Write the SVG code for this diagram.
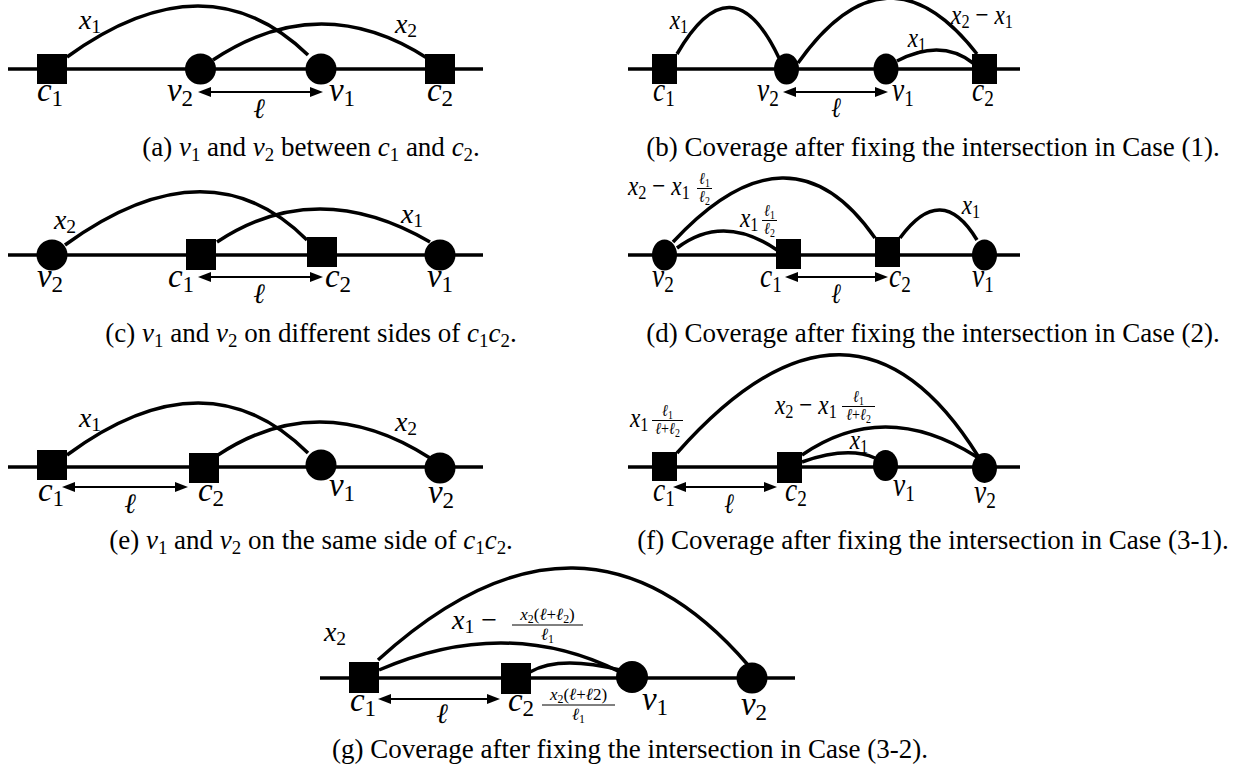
<svg xmlns="http://www.w3.org/2000/svg" width="1244" height="777" viewBox="0 0 1244 777">
<style>
.ln{stroke:#000;stroke-width:3.5;fill:none}
.arc{stroke:#000;stroke-width:3.5;fill:none}
.ar{stroke:#000;stroke-width:2;fill:none;marker-start:url(#ah);marker-end:url(#ah)}
.fb{stroke:#000;stroke-width:1}
.nd{fill:#000}
text{font-family:"Liberation Serif","DejaVu Serif",serif;fill:#000}
.m{font-style:italic}
.nl{font-size:33px;font-style:italic}
.el{font-size:28px;font-style:italic}
.fr{font-size:17px;font-style:italic}
.sb{font-size:0.7em;font-style:normal}
.u{font-style:normal}
.cap{font-size:27px}
</style>
<defs>
<marker id="ah" markerUnits="userSpaceOnUse" markerWidth="13" markerHeight="10" refX="5" refY="5" orient="auto-start-reverse"><path d="M0,0 L13,5 L0,10 z" fill="#000"/></marker>
</defs>
<rect width="1244" height="777" fill="#fff"/>

<!-- Panel (a) -->
<g id="panel-a">
<g id="a-connectors">
<line class="ln" x1="8" y1="69" x2="483" y2="69"/>
<path class="arc" d="M67,57 Q206,-44 308,55"/>
<path class="arc" d="M213,60 Q320,-11 427,58"/>
<line class="ar" x1="206" y1="92" x2="315" y2="92"/>
<text class="el" x="90" y="29" text-anchor="middle">x<tspan class="sb" dy="4">1</tspan></text>
<text class="el" x="406" y="33" text-anchor="middle">x<tspan class="sb" dy="4">2</tspan></text>
<text class="el" x="259" y="118" text-anchor="middle">ℓ</text>
</g>
<g id="a-c1"><rect class="nd" x="37" y="54" width="30" height="30"/><text class="nl" x="50" y="101" text-anchor="middle">c<tspan class="sb" dy="5">1</tspan></text></g>
<g id="a-v2"><circle class="nd" cx="200.5" cy="69" r="15.5"/><text class="nl" x="180" y="101" text-anchor="middle">v<tspan class="sb" dy="5">2</tspan></text></g>
<g id="a-v1"><circle class="nd" cx="321" cy="69" r="15.5"/><text class="nl" x="342" y="101" text-anchor="middle">v<tspan class="sb" dy="5">1</tspan></text></g>
<g id="a-c2"><rect class="nd" x="425" y="54" width="30" height="30"/><text class="nl" x="440" y="101" text-anchor="middle">c<tspan class="sb" dy="5">2</tspan></text></g>
<text class="cap" x="311" y="156" text-anchor="middle">(a) <tspan class="m">v</tspan><tspan class="sb" dy="5">1</tspan><tspan dy="-5"> and </tspan><tspan class="m">v</tspan><tspan class="sb" dy="5">2</tspan><tspan dy="-5"> between </tspan><tspan class="m">c</tspan><tspan class="sb" dy="5">1</tspan><tspan dy="-5"> and </tspan><tspan class="m">c</tspan><tspan class="sb" dy="5">2</tspan><tspan dy="-5">.</tspan></text>
</g>

<!-- Panel (b) -->
<g id="panel-b">
<g id="b-connectors">
<line class="ln" x1="628" y1="69" x2="1020" y2="69"/>
<path class="arc" d="M677,54 Q732,-41 779,58"/>
<path class="arc" d="M798,63 Q886.5,-62 977,54"/>
<path class="arc" d="M897,61 Q941,38 973,63"/>
<line class="ar" x1="791" y1="92" x2="880" y2="92"/>
<text class="el" transform="translate(679,29) scale(0.833,1)" text-anchor="middle">x<tspan class="sb" dy="4">1</tspan></text>
<text class="el" transform="translate(982,24) scale(0.833,1)" text-anchor="middle">x<tspan class="sb" dy="4">2</tspan><tspan class="u" dy="-4"> − </tspan>x<tspan class="sb" dy="4">1</tspan></text>
<text class="el" transform="translate(917,47) scale(0.833,1)" text-anchor="middle">x<tspan class="sb" dy="4">1</tspan></text>
<text class="el" transform="translate(836,117) scale(0.833,1)" text-anchor="middle">ℓ</text>
</g>
<g id="b-c1"><rect class="nd" x="652" y="54" width="25" height="30"/><text class="nl" transform="translate(664,101) scale(0.833,1)" text-anchor="middle">c<tspan class="sb" dy="5">1</tspan></text></g>
<g id="b-v2"><ellipse class="nd" cx="786.5" cy="69" rx="12.5" ry="15.5"/><text class="nl" transform="translate(768,101) scale(0.833,1)" text-anchor="middle">v<tspan class="sb" dy="5">2</tspan></text></g>
<g id="b-v1"><ellipse class="nd" cx="886" cy="69" rx="12.5" ry="15.5"/><text class="nl" transform="translate(903,101) scale(0.833,1)" text-anchor="middle">v<tspan class="sb" dy="5">1</tspan></text></g>
<g id="b-c2"><rect class="nd" x="972" y="54" width="25" height="30"/><text class="nl" transform="translate(983,101) scale(0.833,1)" text-anchor="middle">c<tspan class="sb" dy="5">2</tspan></text></g>
<text class="cap" x="933" y="156" text-anchor="middle">(b) Coverage after fixing the intersection in Case (1).</text>
</g>

<!-- Panel (c) -->
<g id="panel-c">
<g id="c-connectors">
<line class="ln" x1="8" y1="255" x2="483" y2="255"/>
<path class="arc" d="M65,245 Q208,141 307,240"/>
<path class="arc" d="M217,242 Q316.5,176 430,242"/>
<line class="ar" x1="206" y1="277" x2="315" y2="277"/>
<text class="el" x="65" y="229" text-anchor="middle">x<tspan class="sb" dy="4">2</tspan></text>
<text class="el" x="412" y="223" text-anchor="middle">x<tspan class="sb" dy="4">1</tspan></text>
<text class="el" x="259" y="303" text-anchor="middle">ℓ</text>
</g>
<g id="c-v2"><circle class="nd" cx="52" cy="255" r="15.5"/><text class="nl" x="50" y="287" text-anchor="middle">v<tspan class="sb" dy="5">2</tspan></text></g>
<g id="c-c1"><rect class="nd" x="186" y="239" width="30" height="31"/><text class="nl" x="181" y="287" text-anchor="middle">c<tspan class="sb" dy="5">1</tspan></text></g>
<g id="c-c2"><rect class="nd" x="307" y="237" width="30" height="30"/><text class="nl" x="338" y="287" text-anchor="middle">c<tspan class="sb" dy="5">2</tspan></text></g>
<g id="c-v1"><circle class="nd" cx="440" cy="255" r="15.5"/><text class="nl" x="440" y="287" text-anchor="middle">v<tspan class="sb" dy="5">1</tspan></text></g>
<text class="cap" x="311" y="342" text-anchor="middle">(c) <tspan class="m">v</tspan><tspan class="sb" dy="5">1</tspan><tspan dy="-5"> and </tspan><tspan class="m">v</tspan><tspan class="sb" dy="5">2</tspan><tspan dy="-5"> on different sides of </tspan><tspan class="m">c</tspan><tspan class="sb" dy="5">1</tspan><tspan class="m" dy="-5">c</tspan><tspan class="sb" dy="5">2</tspan><tspan dy="-5">.</tspan></text>
</g>

<!-- Panel (d) -->
<g id="panel-d">
<g id="d-connectors">
<line class="ln" x1="628" y1="255" x2="1020" y2="255"/>
<path class="arc" d="M673,242 Q790,116 875,238"/>
<path class="arc" d="M677,248 Q723,213 777,250"/>
<path class="arc" d="M900,238 Q941.5,181 977,240"/>
<line class="ar" x1="793" y1="277" x2="880" y2="277"/>
<text class="el" transform="translate(628,195) scale(0.833,1)">x<tspan class="sb" dy="4">2</tspan><tspan class="u" dy="-4"> − </tspan>x<tspan class="sb" dy="4">1</tspan></text>
<text class="fr" transform="translate(704.5,184) scale(0.833,1)" text-anchor="middle">ℓ<tspan class="sb" dy="3">1</tspan></text>
<line class="fb" x1="697" y1="188.5" x2="712" y2="188.5"/>
<text class="fr" transform="translate(704.5,202) scale(0.833,1)" text-anchor="middle">ℓ<tspan class="sb" dy="3">2</tspan></text>
<text class="el" transform="translate(740,227) scale(0.833,1)">x<tspan class="sb" dy="4">1</tspan></text>
<text class="fr" transform="translate(769.5,216) scale(0.833,1)" text-anchor="middle">ℓ<tspan class="sb" dy="3">1</tspan></text>
<line class="fb" x1="762" y1="220.5" x2="777" y2="220.5"/>
<text class="fr" transform="translate(769.5,234) scale(0.833,1)" text-anchor="middle">ℓ<tspan class="sb" dy="3">2</tspan></text>
<text class="el" transform="translate(971,214) scale(0.833,1)" text-anchor="middle">x<tspan class="sb" dy="4">1</tspan></text>
<text class="el" transform="translate(836,303) scale(0.833,1)" text-anchor="middle">ℓ</text>
</g>
<g id="d-v2"><ellipse class="nd" cx="664.5" cy="255" rx="12.5" ry="15.5"/><text class="nl" transform="translate(663,287) scale(0.833,1)" text-anchor="middle">v<tspan class="sb" dy="5">2</tspan></text></g>
<g id="d-c1"><rect class="nd" x="776" y="239" width="25" height="30"/><text class="nl" transform="translate(771,287) scale(0.833,1)" text-anchor="middle">c<tspan class="sb" dy="5">1</tspan></text></g>
<g id="d-c2"><rect class="nd" x="875" y="237" width="25" height="30"/><text class="nl" transform="translate(900,287) scale(0.833,1)" text-anchor="middle">c<tspan class="sb" dy="5">2</tspan></text></g>
<g id="d-v1"><ellipse class="nd" cx="984.5" cy="255" rx="12.5" ry="15.5"/><text class="nl" transform="translate(983,287) scale(0.833,1)" text-anchor="middle">v<tspan class="sb" dy="5">1</tspan></text></g>
<text class="cap" x="933" y="342" text-anchor="middle">(d) Coverage after fixing the intersection in Case (2).</text>
</g>

<!-- Panel (e) -->
<g id="panel-e">
<g id="e-connectors">
<line class="ln" x1="8" y1="467" x2="483" y2="467"/>
<path class="arc" d="M67,455 Q206.5,352 308,453"/>
<path class="arc" d="M218,455 Q320,387.5 430,458"/>
<line class="ar" x1="70" y1="487" x2="180" y2="487"/>
<text class="el" x="90" y="427" text-anchor="middle">x<tspan class="sb" dy="4">1</tspan></text>
<text class="el" x="406" y="431" text-anchor="middle">x<tspan class="sb" dy="4">2</tspan></text>
<text class="el" x="130" y="513" text-anchor="middle">ℓ</text>
</g>
<g id="e-c1"><rect class="nd" x="37" y="450" width="30" height="30"/><text class="nl" x="51" y="501" text-anchor="middle">c<tspan class="sb" dy="5">1</tspan></text></g>
<g id="e-c2"><rect class="nd" x="189" y="453" width="30" height="30"/><text class="nl" x="211" y="501" text-anchor="middle">c<tspan class="sb" dy="5">2</tspan></text></g>
<g id="e-v1"><circle class="nd" cx="321" cy="465" r="15.5"/><text class="nl" x="342" y="496" text-anchor="middle">v<tspan class="sb" dy="5">1</tspan></text></g>
<g id="e-v2"><circle class="nd" cx="440" cy="468" r="15.5"/><text class="nl" x="441" y="503" text-anchor="middle">v<tspan class="sb" dy="5">2</tspan></text></g>
<text class="cap" x="311" y="549" text-anchor="middle">(e) <tspan class="m">v</tspan><tspan class="sb" dy="5">1</tspan><tspan dy="-5"> and </tspan><tspan class="m">v</tspan><tspan class="sb" dy="5">2</tspan><tspan dy="-5"> on the same side of </tspan><tspan class="m">c</tspan><tspan class="sb" dy="5">1</tspan><tspan class="m" dy="-5">c</tspan><tspan class="sb" dy="5">2</tspan><tspan dy="-5">.</tspan></text>
</g>

<!-- Panel (f) -->
<g id="panel-f">
<g id="f-connectors">
<line class="ln" x1="628" y1="467" x2="1020" y2="467"/>
<path class="arc" d="M677,453 Q852.5,255 978,456"/>
<path class="arc" d="M802,455 Q884.5,398 977,457"/>
<path class="arc" d="M802,462 Q847.5,446 875,458"/>
<line class="ar" x1="681" y1="487" x2="769" y2="487"/>
<text class="el" transform="translate(630,427) scale(0.833,1)">x<tspan class="sb" dy="4">1</tspan></text>
<text class="fr" transform="translate(667.5,416) scale(0.833,1)" text-anchor="middle">ℓ<tspan class="sb" dy="3">1</tspan></text>
<line class="fb" x1="652" y1="420.5" x2="683" y2="420.5"/>
<text class="fr" transform="translate(667.5,434) scale(0.833,1)" text-anchor="middle">ℓ<tspan class="u">+</tspan>ℓ<tspan class="sb" dy="3">2</tspan></text>
<text class="el" transform="translate(775,414) scale(0.833,1)">x<tspan class="sb" dy="4">2</tspan><tspan class="u" dy="-4"> − </tspan>x<tspan class="sb" dy="4">1</tspan></text>
<text class="fr" transform="translate(858.5,402) scale(0.833,1)" text-anchor="middle">ℓ<tspan class="sb" dy="3">1</tspan></text>
<line class="fb" x1="842" y1="406.5" x2="875" y2="406.5"/>
<text class="fr" transform="translate(858.5,420) scale(0.833,1)" text-anchor="middle">ℓ<tspan class="u">+</tspan>ℓ<tspan class="sb" dy="3">2</tspan></text>
<text class="el" transform="translate(859,449) scale(0.833,1)" text-anchor="middle">x<tspan class="sb" dy="4">1</tspan></text>
<text class="el" transform="translate(729,513) scale(0.833,1)" text-anchor="middle">ℓ</text>
</g>
<g id="f-c1"><rect class="nd" x="652" y="452" width="25" height="29"/><text class="nl" transform="translate(664,501) scale(0.833,1)" text-anchor="middle">c<tspan class="sb" dy="5">1</tspan></text></g>
<g id="f-c2"><rect class="nd" x="777" y="452" width="25" height="31"/><text class="nl" transform="translate(796,501) scale(0.833,1)" text-anchor="middle">c<tspan class="sb" dy="5">2</tspan></text></g>
<g id="f-v1"><ellipse class="nd" cx="885.5" cy="465.5" rx="12.5" ry="15.5"/><text class="nl" transform="translate(904,496) scale(0.833,1)" text-anchor="middle">v<tspan class="sb" dy="5">1</tspan></text></g>
<g id="f-v2"><ellipse class="nd" cx="984.5" cy="468" rx="12.5" ry="15"/><text class="nl" transform="translate(985,503) scale(0.833,1)" text-anchor="middle">v<tspan class="sb" dy="5">2</tspan></text></g>
<text class="cap" x="933" y="549" text-anchor="middle">(f) Coverage after fixing the intersection in Case (3-1).</text>
</g>

<!-- Panel (g) -->
<g id="panel-g">
<g id="g-connectors">
<line class="ln" x1="320" y1="678" x2="795" y2="678"/>
<path class="arc" d="M378,660 Q583,473.5 748,665"/>
<path class="arc" d="M379,670 Q506.5,615 620,672"/>
<path class="arc" d="M530,672 Q559,655 620,670"/>
<line class="ar" x1="386" y1="699" x2="492" y2="699"/>
<text class="el" x="335" y="641" text-anchor="middle">x<tspan class="sb" dy="4">2</tspan></text>
<text class="el" x="452" y="629">x<tspan class="sb" dy="4">1</tspan><tspan class="u" dy="-4"> − </tspan></text>
<text class="fr" x="547.5" y="620" text-anchor="middle">x<tspan class="sb" dy="3">2</tspan><tspan class="u" dy="-3">(</tspan>ℓ<tspan class="u">+</tspan>ℓ<tspan class="sb" dy="3">2</tspan><tspan class="u" dy="-3">)</tspan></text>
<line class="fb" x1="512" y1="625" x2="583" y2="625"/>
<text class="fr" x="547.5" y="640" text-anchor="middle">ℓ<tspan class="sb" dy="3">1</tspan></text>
<text class="fr" x="578.5" y="700" text-anchor="middle">x<tspan class="sb" dy="3">2</tspan><tspan class="u" dy="-3">(</tspan>ℓ<tspan class="u">+</tspan>ℓ<tspan class="u">2)</tspan></text>
<line class="fb" x1="542" y1="705" x2="615" y2="705"/>
<text class="fr" x="578.5" y="720" text-anchor="middle">ℓ<tspan class="sb" dy="3">1</tspan></text>
<text class="el" x="442" y="723" text-anchor="middle">ℓ</text>
</g>
<g id="g-c1"><rect class="nd" x="349" y="662" width="30" height="31"/><text class="nl" x="363" y="711" text-anchor="middle">c<tspan class="sb" dy="5">1</tspan></text></g>
<g id="g-c2"><rect class="nd" x="501" y="663" width="30" height="31"/><text class="nl" x="521" y="711" text-anchor="middle">c<tspan class="sb" dy="5">2</tspan></text></g>
<g id="g-v1"><circle class="nd" cx="632" cy="677" r="16"/><text class="nl" x="655" y="710" text-anchor="middle">v<tspan class="sb" dy="5">1</tspan></text></g>
<g id="g-v2"><circle class="nd" cx="752" cy="678" r="15.5"/><text class="nl" x="754" y="715" text-anchor="middle">v<tspan class="sb" dy="5">2</tspan></text></g>
<text class="cap" x="630" y="758" text-anchor="middle">(g) Coverage after fixing the intersection in Case (3-2).</text>
</g>
</svg>
